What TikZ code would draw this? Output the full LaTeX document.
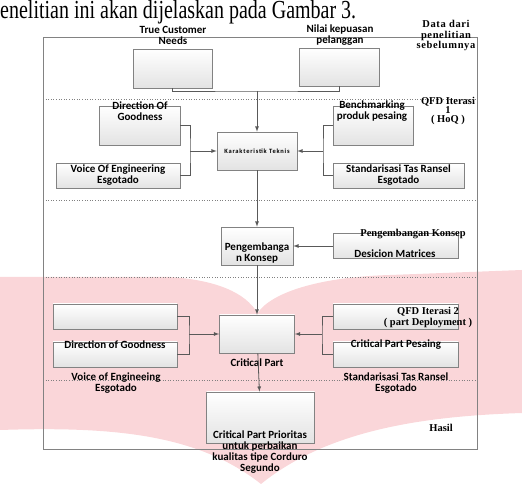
\documentclass[tikz,border=0pt]{standalone}
\usepackage{fontspec}
\setmainfont{Liberation Serif}
\newfontfamily\calfont{Carlito}
\usetikzlibrary{arrows,positioning}

\definecolor{wmpink}{RGB}{250,214,217}
\definecolor{linegray}{RGB}{89,89,89}
\definecolor{boxgray}{RGB}{130,130,130}

\begin{document}
\begin{tikzpicture}[x=1pt,y=1pt,node distance=2cm,on grid,
    box/.style={draw=boxgray,line width=0.7pt,top color=white,bottom color=gray!22,
      inner sep=0pt,align=center,font=\calfont\bfseries\fontsize{11}{11}\selectfont},
    lbl/.style={align=center,inner sep=0pt,font=\calfont\bfseries\fontsize{11}{11}\selectfont},
    note/.style={align=center,inner sep=0pt,font=\bfseries\fontsize{10.5}{10}\selectfont},
    link/.style={draw=linegray,line width=0.8pt},
    flow/.style={link,-latex},
    sep/.style={draw=gray,dotted,line width=0.6pt}]

\useasboundingbox (0,0) rectangle (522,484);

% watermark behind everything
\fill[wmpink] (0,207) -- (170,207) .. controls (215,204) and (245,192) .. (257.5,171)
  .. controls (272,192) and (320,207) .. (390,209) -- (522,214) -- (522,71)
  .. controls (430,68) and (330,56) .. (261,0) .. controls (200,48) and (120,58) .. (0,54) -- cycle;

\node[anchor=base west,inner sep=0pt,yscale=1.3,transform shape,font=\fontsize{20}{20}\selectfont] (intro) at (0,465)
  {enelitian ini akan dijelaskan pada Gambar 3.};

% frame and bands
\node[draw=boxgray,line width=0.8pt,minimum width=434pt,minimum height=412pt,inner sep=0pt] (frame) at (260,241) {};
\draw[sep] (43,385) -- (477,385);
\draw[sep] (43,284) -- (477,284);
\draw[sep] (43,207) -- (477,207);
\draw[sep] (43,104) -- (477,104);

% band 1: data dari penelitian sebelumnya
\node[box,minimum width=79pt,minimum height=39pt] (tcn) at (172.5,415.5) {};
\node[box,minimum width=80pt,minimum height=38pt] (nilai) at (339,417) {};
\node[lbl] (tcntxt) at (173,448.5) {True Customer\\Needs};
\node[lbl] (nilaitxt) at (340,448.5) {Nilai kepuasan\\pelanggan};
\node[note,font=\bfseries\addfontfeature{LetterSpace=6}\fontsize{10.5}{10.5}\selectfont] (datatxt) at (446,448.5) {Data dari\\penelitian\\sebelumnya};

% band 2: QFD iterasi 1
\node[box,minimum width=80pt,minimum height=38pt] (kt) at (257,333)
  {\fontsize{6.5}{7}\selectfont\addfontfeature{LetterSpace=12}Karakteristik Teknis};
\node[box,minimum width=81pt,minimum height=39pt] (dog) at (139.5,358.5) {};
\node[box,minimum width=124pt,minimum height=25pt] (voe) at (118,308.5) {Voice Of  Engineering\\Esgotado};
\node[box,minimum width=80pt,minimum height=39pt] (bench) at (373,358.5) {};
\node[box,minimum width=131pt,minimum height=25pt] (std) at (398.5,308.5) {Standarisasi  Tas Ransel\\Esgotado};
\node[lbl] (dogtxt) at (140,373) {Direction Of\\Goodness};
\node[lbl] (benchtxt) at (372,373) {Benchmarking\\produk pesaing};
\node[note,font=\bfseries\fontsize{10.5}{9}\selectfont] (qfd1txt) at (448,373) {QFD Iterasi\\1\\( HoQ )};

% band 3: pengembangan konsep
\node[box,minimum width=72pt,minimum height=38pt] (pk) [below=95pt of kt] {};
\node[lbl] (pktxt) at (257,231) {Pengembanga\\n  Konsep};
\node[box,minimum width=125pt,minimum height=25pt] (dm) at (395.5,238) {};
\node[lbl] (dmtxt) at (395,230) {Desicion Matrices};
\node[note] (pkonsep) at (413,250) {Pengembangan Konsep};

% band 4: QFD iterasi 2
\node[box,minimum width=75pt,minimum height=38pt] (cp) [below=88pt of pk] {};
\node[lbl] (cptxt) at (257,121) {Critical Part};
\node[box,minimum width=124pt,minimum height=25pt] (lu) at (115,167.5) {};
\node[box,minimum width=124pt,minimum height=25pt] (ll) at (115,129.5) {};
\node[box,minimum width=125pt,minimum height=25pt] (ru) at (395.5,167.5) {};
\node[box,minimum width=125pt,minimum height=25pt] (rl) at (395.5,129.5) {};
\node[lbl] (lltxt) at (115,139) {Direction of  Goodness};
\node[lbl] (voe2txt) at (116,100.5) {Voice of  Engineeing\\Esgotado};
\node[lbl] (rltxt) at (396,139) {Critical Part Pesaing};
\node[lbl] (std2txt) at (396,100.5) {Standarisasi  Tas Ransel\\Esgotado};
\node[note,font=\bfseries\fontsize{10.5}{11}\selectfont] (qfd2txt) at (428,166.5) {QFD Iterasi 2\\( part Deployment )};

% band 5: hasil
\node[box,minimum width=108pt,minimum height=51pt] (cpp) [below=83.5pt of cp,xshift=3.5pt] {};
\node[lbl] (cpptxt) at (260,32) {Critical Part Prioritas\\untuk perbaikan\\kualitas tipe Corduro\\Segundo};
\node[note] (hasiltxt) at (441,56) {Hasil};

% connectors
\coordinate (jtop) at (257,393);
\coordinate (jl1) at (190,333);
\coordinate (jr1) at (323,333);
\coordinate (jl2) at (189,150);
\coordinate (jr2) at (322,150);

\draw[link] (tcn.south) |- (jtop) -| (nilai.south);
\draw[flow] (jtop) -- (kt);
\draw[link] (dog.east) -| (jl1) |- (voe.east);
\draw[flow] (jl1) -- (kt);
\draw[link] (bench.west) -| (jr1) |- (std.west);
\draw[flow] (jr1) -- (kt);
\draw[flow] (kt) -- (pk);
\draw[flow] (dm) -- (pk);
\draw[flow] (pk) -- (cp);
\draw[link] (lu.east) -| (jl2) |- (ll.east);
\draw[flow] (jl2) -- (cp);
\draw[link] (ru.west) -| (jr2) |- (rl.west);
\draw[flow] (jr2) -- (cp);
\draw[flow] (cp) -- (cpp);
\end{tikzpicture}
\end{document}
